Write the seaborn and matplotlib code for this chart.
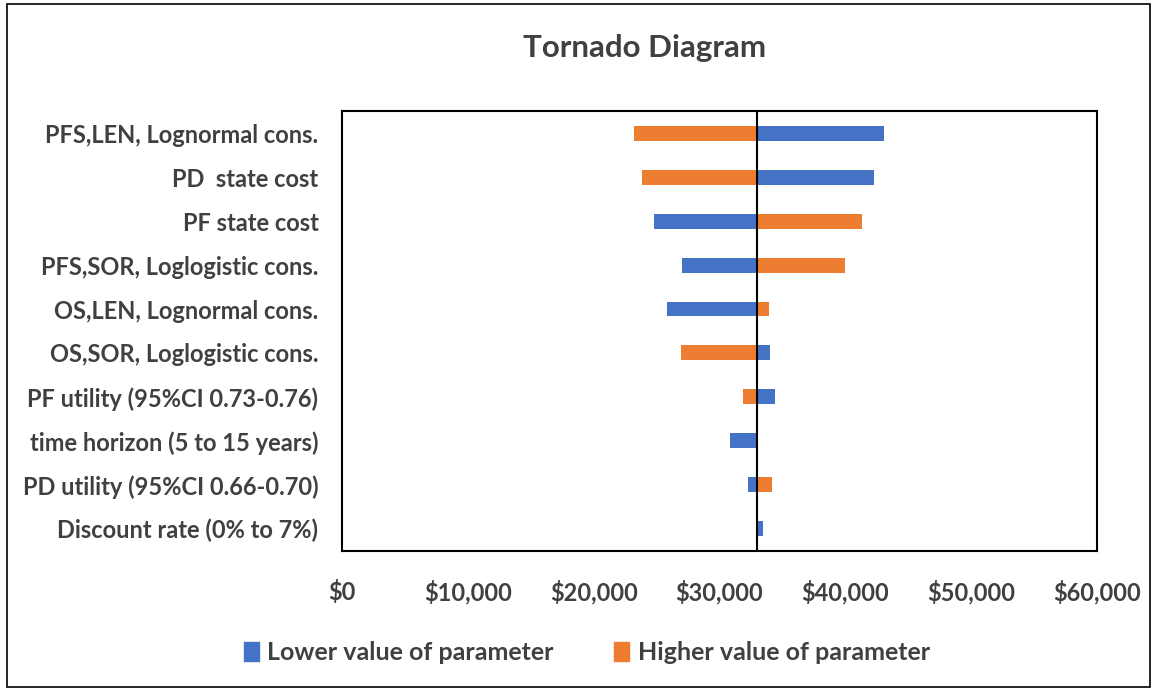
import numpy as np
import pandas as pd
import matplotlib
matplotlib.use("Agg")
import matplotlib.pyplot as plt
from matplotlib.ticker import FuncFormatter, FixedLocator
from matplotlib.patches import Patch, Rectangle
import seaborn as sns

params = [
    "PFS,LEN, Lognormal cons.",
    "PD  state cost",
    "PF state cost",
    "PFS,SOR, Loglogistic cons.",
    "OS,LEN, Lognormal cons.",
    "OS,SOR, Loglogistic cons.",
    "PF utility (95%CI 0.73-0.76)",
    "time horizon (5 to 15 years)",
    "PD utility (95%CI 0.66-0.70)",
    "Discount rate (0% to 7%)",
]
low_vals = [43100, 42300, 24800, 27000, 25800, 34050, 34400, 30850, 32250, 33450]
high_vals = [23200, 23850, 41350, 40000, 33950, 26950, 31900, 33000, 34150, 32900]
base_value = 33000
tick_values = [0, 10000, 20000, 30000, 40000, 50000, 60000]
series_names = ["Lower value of parameter", "Higher value of parameter"]
colors = ["#4472C4", "#ED7D31"]

df = pd.DataFrame({
    "param": params * 2,
    "series": [series_names[0]] * len(params) + [series_names[1]] * len(params),
    "delta": [v - base_value for v in low_vals] + [v - base_value for v in high_vals],
})

sns.set_theme(style="white")
plt.rcParams["font.family"] = ["Lato", "DejaVu Sans"]
text_color = "#404040"

fig = plt.figure(figsize=(11.57, 6.91), dpi=100)
ax = fig.add_axes([0.2956, 0.203, 0.6525, 0.636])

sns.barplot(data=df, y="param", x="delta", hue="series", dodge=False,
            palette=colors, saturation=1, width=0.34, orient="h", legend=False,
            linewidth=0, ax=ax, order=params, hue_order=series_names)

ax.axvline(0, color="black", lw=1.5, zorder=5)
ax.set_xlim(tick_values[0] - base_value, tick_values[-1] - base_value)
ax.set_ylim(len(params) - 0.5, -0.5)
ax.xaxis.set_major_locator(FixedLocator([t - base_value for t in tick_values]))
ax.xaxis.set_major_formatter(FuncFormatter(lambda v, p: f"${v + base_value:,.0f}"))
ax.set_xlabel("")
ax.set_ylabel("")
ax.tick_params(axis="x", length=0, pad=21, labelsize=17, labelcolor=text_color)
ax.tick_params(axis="y", length=0, pad=17, labelsize=17, labelcolor=text_color)
for lab in ax.get_xticklabels() + ax.get_yticklabels():
    lab.set_fontweight("bold")
for s in ax.spines.values():
    s.set_visible(True)
    s.set_color("black")
    s.set_linewidth(1.5)

fig.text(0.557, 0.93, "Tornado Diagram", ha="center", va="center",
         fontsize=22.5, fontweight="bold", color=text_color)

handles = [Patch(facecolor=c, edgecolor=c) for c in colors]
leg = fig.legend(handles, series_names, loc="center", bbox_to_anchor=(0.507, 0.056),
                 ncol=2, frameon=False, handlelength=0.6, handleheight=0.8,
                 handletextpad=0.35, columnspacing=2.4,
                 prop={"size": 18, "weight": "bold"})
for t in leg.get_texts():
    t.set_color(text_color)

fig.patches.append(Rectangle((0.006, 0.006), 0.988, 0.988, transform=fig.transFigure,
                             fill=False, edgecolor="black", lw=1.2))

fig.savefig("out.png", dpi=100, facecolor="white")
